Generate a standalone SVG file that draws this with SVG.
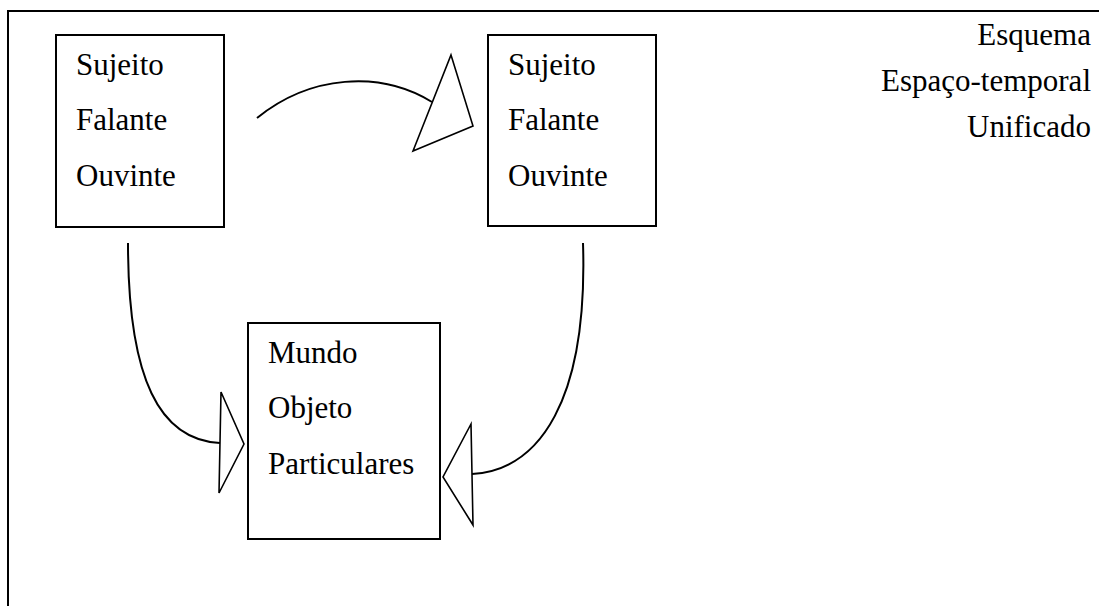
<svg xmlns="http://www.w3.org/2000/svg" width="1099" height="606" viewBox="0 0 1099 606">
<style>
.box{fill:#fff;stroke:#000;stroke-width:2}
.t{font-family:"Liberation Serif","Times New Roman",serif;font-size:31px;fill:#000}
.r{text-anchor:end}
.c{fill:none;stroke:#000;stroke-width:2}
.h{fill:#fff;stroke:#000;stroke-width:1.6;stroke-linejoin:miter}
</style>
<rect width="1099" height="606" fill="#fff"/>
<g id="frame"><path d="M8,606 V11 H1099" fill="none" stroke="#000" stroke-width="2"/></g>
<g id="legend">
<text class="t r" x="1091" y="45">Esquema</text>
<text class="t r" x="1091" y="91">Espaço-temporal</text>
<text class="t r" x="1091" y="137">Unificado</text>
</g>
<g id="node-sujeito1">
<rect class="box" x="56" y="35" width="168" height="192"/>
<text class="t" x="76" y="75">Sujeito</text>
<text class="t" x="76" y="130">Falante</text>
<text class="t" x="76" y="186">Ouvinte</text>
</g>
<g id="node-sujeito2">
<rect class="box" x="488" y="35" width="168" height="191"/>
<text class="t" x="508" y="75">Sujeito</text>
<text class="t" x="508" y="130">Falante</text>
<text class="t" x="508" y="186">Ouvinte</text>
</g>
<g id="node-mundo">
<rect class="box" x="248" y="323" width="192" height="216"/>
<text class="t" x="268" y="363">Mundo</text>
<text class="t" x="268" y="418">Objeto</text>
<text class="t" x="268" y="474">Particulares</text>
</g>
<g id="connectors">
<path class="c" d="M257,118 C310,75 380,70 432,102"/>
<polygon class="h" points="451,55 473,126 413,151"/>
<path class="c" d="M128,243 C128,380 160,440 220,443"/>
<polygon class="h" points="221,392 244,444 219,493"/>
<path class="c" d="M583,243 C588,400 540,470 472,474"/>
<polygon class="h" points="471,424 443,477 473,525"/>
</g>
</svg>
